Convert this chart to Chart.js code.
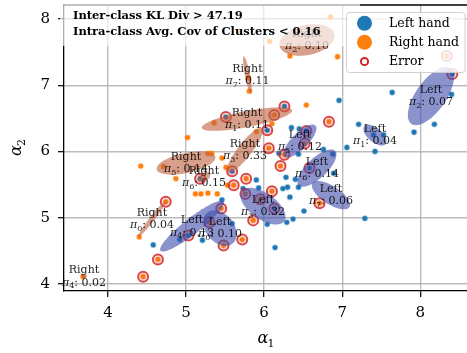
<!DOCTYPE html>
<html>
<head>
<meta charset="utf-8">
<script src="https://cdn.jsdelivr.net/npm/chart.js@4.4.1/dist/chart.umd.min.js"></script>
<style>
  html, body { margin: 0; padding: 0; background: #fff; overflow: hidden; }
  #wrap { width: 467px; height: 353px; }
</style>
</head>
<body>
<div id="wrap"><canvas id="chart" width="467" height="353"></canvas></div>
<script>
// Left hand samples (alpha_1, alpha_2)
const leftX = [7.64, 6.96, 8.40, 8.18, 7.92, 7.21, 6.35, 6.45, 7.40, 7.53, 7.06, 7.42, 6.19, 6.44, 6.76, 6.88, 6.89, 6.28, 6.40,
    6.24, 6.30, 6.44, 5.93, 6.33, 6.51, 7.29, 6.37, 6.29, 6.04, 6.14, 5.73, 5.46, 5.59, 4.92, 5.21, 4.58, 5.90];
const leftY = [6.89, 6.77, 6.86, 6.41, 6.29, 6.41, 6.36, 6.34, 6.25, 6.25, 6.06, 6.00, 5.97, 5.96, 6.03, 5.96, 5.67, 5.61, 5.58,
    5.44, 5.46, 5.46, 5.45, 5.31, 5.10, 4.99, 4.98, 4.93, 4.90, 4.55, 5.44, 5.27, 4.91, 4.67, 4.66, 4.59, 5.57];

// Right hand samples
const rightX = [6.85, 6.07, 6.33, 6.94, 5.69, 6.54, 5.80, 5.81, 5.36, 6.10, 5.90, 5.02, 4.42, 4.71, 5.33, 5.28, 5.46, 5.51, 4.87,
    5.12, 5.19, 5.28, 5.40, 5.53, 4.40, 3.68];
const rightY = [8.03, 7.66, 7.44, 7.43, 7.81, 6.70, 7.11, 6.91, 6.43, 6.42, 6.30, 6.21, 5.78, 5.77, 5.97, 5.97, 5.90, 5.76, 5.59,
    5.36, 5.36, 5.37, 5.36, 5.49, 4.71, 4.11];

// Misclassified samples and their true hand
const errX = [8.41, 8.34, 6.83, 6.26, 6.13, 6.54, 6.52, 6.06, 6.26, 6.21, 6.58, 6.10, 6.71, 6.13, 5.95, 5.86, 5.51, 6.04, 5.18,
    5.59, 5.61, 5.77, 5.76, 5.45, 4.74, 5.30, 5.03, 5.48, 5.72, 4.64, 4.45];
const errY = [7.17, 7.44, 6.45, 6.68, 6.55, 6.31, 6.12, 6.05, 5.95, 5.78, 5.75, 5.40, 5.22, 5.14, 5.28, 4.96, 6.52, 6.32, 5.59,
    5.70, 5.49, 5.59, 5.36, 5.14, 5.24, 4.93, 4.73, 4.58, 4.67, 4.37, 4.11];
const errHand = ['L', 'R', 'R', 'L', 'R', 'L', 'R', 'R', 'R', 'R', 'L', 'R', 'R', 'L', 'R', 'R', 'L', 'L', 'L',
    'L', 'R', 'R', 'R', 'R', 'R', 'R', 'L', 'R', 'R', 'R', 'R'];

// Gaussian mixture clusters, Left hand
const leftMeanX = [5.434, 7.419, 8.136, 5.985, 5.076, 6.458, 6.676, 6.855];
const leftMeanY = [4.843, 6.248, 6.837, 5.175, 4.873, 6.157, 5.749, 5.341];
const leftVarX = [0.0459, 0.0222, 0.0872, 0.0835, 0.1669, 0.0449, 0.0624, 0.0598];
const leftCov = [-0.0194, -0.0140, 0.0846, -0.0461, 0.1442, 0.0406, 0.0506, -0.0356];
const leftVarY = [0.0721, 0.0251, 0.1938, 0.0767, 0.1476, 0.0625, 0.0786, 0.0458];
const leftWeight = [0.10, 0.04, 0.07, 0.32, 0.13, 0.12, 0.14, 0.06];

// Gaussian mixture clusters, Right hand
const rightMeanX = [4.563, 5.780, 6.548, 5.754, 3.693, 4.999, 5.229, 5.786];
const rightMeanY = [4.979, 6.489, 7.683, 6.021, 4.118, 5.825, 5.613, 7.154];
const rightVarX = [0.03074, 0.3349, 0.1245, 0.0537, 0.00148, 0.1418, 0.00668, 0.00315];
const rightCov = [0.04485, 0.0744, 0.0220, 0.0690, 0, 0.0315, 0.00276, -0.01288];
const rightVarY = [0.06913, 0.0317, 0.0568, 0.1153, 0.00091, 0.0307, 0.00554, 0.07945];
const rightWeight = [0.04, 0.11, 0.10, 0.33, 0.02, 0.14, 0.15, 0.11];

const xTicks = [4, 5, 6, 7, 8];
const yTicks = [4, 5, 6, 7, 8];
const legendNames = ['Left hand', 'Right hand', 'Error'];
const infoLines = ['Inter-class KL Div > 47.19', 'Intra-class Avg. Cov of Clusters < 0.16'];

const SERIF = '"DejaVu Serif", serif';
const BLUE = '#1f77b4';
const ORANGE = '#ff7f0e';
const RED = '#d62728';

function toPts(xs, ys) {
    return xs.map((x, i) => ({ x: x, y: ys[i] }));
}

// error samples also belong to their own hand's scatter
const leftPts = toPts(leftX, leftY).concat(toPts(errX, errY).filter((p, i) => errHand[i] === 'L'));
const rightPts = toPts(rightX, rightY).concat(toPts(errX, errY).filter((p, i) => errHand[i] === 'R'));

// draw "pi_k: w" with a subscript, centred on cx
function drawPiText(ctx, cx, cy, k, w, size) {
    const parts = [
        { t: '\u03c0', f: 'italic ' + size + 'px ' + SERIF, dy: 0 },
        { t: String(k), f: Math.round(size * 0.72) + 'px ' + SERIF, dy: size * 0.3 },
        { t: ': ' + w.toFixed(2), f: size + 'px ' + SERIF, dy: 0 },
    ];
    let total = 0;
    parts.forEach(p => { ctx.font = p.f; p.w = ctx.measureText(p.t).width; total += p.w; });
    let x = cx - total / 2;
    parts.forEach(p => {
        ctx.font = p.f;
        ctx.fillText(p.t, x, cy + p.dy);
        x += p.w;
    });
}

function drawClusters(chart, mx, my, vx, cxy, vy, fill) {
    const ctx = chart.ctx;
    const xs = chart.scales.x, ys = chart.scales.y;
    const a = chart.chartArea;
    ctx.save();
    ctx.beginPath();
    ctx.rect(a.left, a.top, a.right - a.left, a.bottom - a.top);
    ctx.clip();
    ctx.fillStyle = fill;
    for (let k = 0; k < mx.length; k++) {
        // cholesky of covariance -> ellipse outline in data space
        const l11 = Math.sqrt(vx[k]);
        const l21 = cxy[k] / l11;
        const l22 = Math.sqrt(Math.max(vy[k] - l21 * l21, 1e-8));
        ctx.beginPath();
        for (let s = 0; s <= 120; s++) {
            const t = s / 120 * Math.PI * 2;
            const px = xs.getPixelForValue(mx[k] + l11 * Math.cos(t));
            const py = ys.getPixelForValue(my[k] + l21 * Math.cos(t) + l22 * Math.sin(t));
            if (s === 0) ctx.moveTo(px, py); else ctx.lineTo(px, py);
        }
        ctx.closePath();
        ctx.fill();
    }
    ctx.restore();
}

function drawClusterLabels(chart, hand, mx, my, wts) {
    const ctx = chart.ctx;
    const xs = chart.scales.x, ys = chart.scales.y;
    ctx.save();
    ctx.fillStyle = 'rgba(0,0,0,0.88)';
    ctx.textBaseline = 'middle';
    for (let k = 0; k < mx.length; k++) {
        const px = xs.getPixelForValue(mx[k]);
        const py = ys.getPixelForValue(my[k]);
        ctx.font = '11px ' + SERIF;
        ctx.textAlign = 'center';
        ctx.fillText(hand, px, py - 6);
        ctx.textAlign = 'left';
        drawPiText(ctx, px, py + 6.5, k, wts[k], 11);
    }
    ctx.restore();
}

function roundRect(ctx, x, y, w, h, r) {
    ctx.beginPath();
    ctx.moveTo(x + r, y);
    ctx.arcTo(x + w, y, x + w, y + h, r);
    ctx.arcTo(x + w, y + h, x, y + h, r);
    ctx.arcTo(x, y + h, x, y, r);
    ctx.arcTo(x, y, x + w, y, r);
    ctx.closePath();
}

const overlayPlugin = {
    id: 'overlay',
    afterDatasetsDraw(chart) {
        drawClusters(chart, leftMeanX, leftMeanY, leftVarX, leftCov, leftVarY, 'rgba(60,75,170,0.6)');
        drawClusters(chart, rightMeanX, rightMeanY, rightVarX, rightCov, rightVarY, 'rgba(190,95,60,0.6)');
        drawClusterLabels(chart, 'Left', leftMeanX, leftMeanY, leftWeight);
        drawClusterLabels(chart, 'Right', rightMeanX, rightMeanY, rightWeight);
    },
    afterDraw(chart) {
        const ctx = chart.ctx;
        const a = chart.chartArea;
        ctx.save();

        // top spine
        ctx.strokeStyle = '#000';
        ctx.lineWidth = 1.3;
        ctx.beginPath();
        ctx.moveTo(a.left, a.top);
        ctx.lineTo(a.right, a.top);
        ctx.stroke();

        // info box
        ctx.fillStyle = 'rgba(255,255,255,0.68)';
        roundRect(ctx, 60, 0, 300, 46, 4);
        ctx.fill();
        ctx.fillStyle = '#000';
        ctx.font = 'bold 11.5px ' + SERIF;
        ctx.textAlign = 'left';
        ctx.textBaseline = 'middle';
        infoLines.forEach((s, i) => ctx.fillText(s, 73, 16.5 + i * 15.5));

        // legend
        ctx.fillStyle = 'rgba(255,255,255,0.82)';
        ctx.strokeStyle = 'rgba(204,204,204,0.9)';
        ctx.lineWidth = 1;
        roundRect(ctx, 346.5, 12.5, 118.5, 60, 3);
        ctx.fill();
        ctx.stroke();
        const rows = [23.3, 42.3, 61.5];
        ctx.fillStyle = BLUE;
        ctx.beginPath(); ctx.arc(364.5, rows[0], 7.5, 0, Math.PI * 2); ctx.fill();
        ctx.fillStyle = ORANGE;
        ctx.beginPath(); ctx.arc(364.5, rows[1], 7.5, 0, Math.PI * 2); ctx.fill();
        ctx.strokeStyle = RED;
        ctx.lineWidth = 2;
        ctx.beginPath(); ctx.arc(364.5, rows[2], 3.6, 0, Math.PI * 2); ctx.stroke();
        ctx.fillStyle = '#000';
        ctx.font = '12.5px ' + SERIF;
        legendNames.forEach((s, i) => ctx.fillText(s, 389, rows[i] + 0.5));

        // axis titles with subscripts
        ctx.font = 'italic 16px ' + SERIF;
        ctx.textBaseline = 'alphabetic';
        const xMid = (a.left + a.right) / 2;
        ctx.fillText('\u03b1', xMid - 8, 343);
        ctx.font = '11px ' + SERIF;
        ctx.fillText('1', xMid + 2, 347);
        ctx.translate(21, (a.top + a.bottom) / 2);
        ctx.rotate(-Math.PI / 2);
        ctx.font = 'italic 16px ' + SERIF;
        ctx.fillText('\u03b1', -8, 0);
        ctx.font = '11px ' + SERIF;
        ctx.fillText('2', 2, 4);
        ctx.restore();
    },
};

// keep tick labels from adding their own padding to the layout
function noPad(s) {
    s.paddingTop = 0;
    s.paddingBottom = 0;
    s.paddingLeft = 0;
    s.paddingRight = 0;
}

const axisCommon = {
    type: 'linear',
    grid: {
        color: 'rgba(176,176,176,0.85)',
        lineWidth: 1.4,
        tickColor: '#000',
        tickLength: 6,
        tickWidth: 1.2,
        drawTicks: true,
    },
    border: { color: '#000', width: 1.3 },
    ticks: {
        color: '#000',
        font: { family: SERIF, size: 15 },
        autoSkip: false,
        maxRotation: 0,
    },
};

new Chart(document.getElementById('chart'), {
    type: 'scatter',
    data: {
        datasets: [
            {
                label: 'Error',
                data: toPts(errX, errY),
                pointRadius: 5,
                pointBorderWidth: 2,
                pointBorderColor: 'rgba(214,39,40,0.85)',
                pointBackgroundColor: 'rgba(214,39,40,0.12)',
                order: 0,
            },
            {
                label: 'Right hand',
                data: rightPts,
                pointRadius: 2.4,
                pointBorderWidth: 1.5,
                pointBackgroundColor: ORANGE,
                pointBorderColor: 'rgba(255,127,14,0.4)',
                order: 1,
            },
            {
                label: 'Left hand',
                data: leftPts,
                pointRadius: 2.4,
                pointBorderWidth: 1.5,
                pointBackgroundColor: BLUE,
                pointBorderColor: 'rgba(31,119,180,0.4)',
                order: 2,
            },
        ],
    },
    options: {
        responsive: false,
        animation: false,
        devicePixelRatio: 1,
        layout: { autoPadding: false, padding: { top: 5, right: 0, left: 0, bottom: 0 } },
        plugins: { legend: { display: false }, tooltip: { enabled: false } },
        scales: {
            x: Object.assign({}, axisCommon, {
                min: 3.437,
                max: 8.598,
                afterBuildTicks: s => { s.ticks = xTicks.map(v => ({ value: v })); },
                afterFit: s => { s.height = 62; noPad(s); },
                ticks: Object.assign({}, axisCommon.ticks, { padding: 7 }),
            }),
            y: Object.assign({}, axisCommon, {
                min: 3.894,
                max: 8.211,
                afterBuildTicks: s => { s.ticks = yTicks.map(v => ({ value: v })); },
                afterFit: s => { s.width = 64; noPad(s); },
                ticks: Object.assign({}, axisCommon.ticks, { padding: 8 }),
            }),
        },
    },
    plugins: [overlayPlugin],
});
</script>
</body>
</html>
